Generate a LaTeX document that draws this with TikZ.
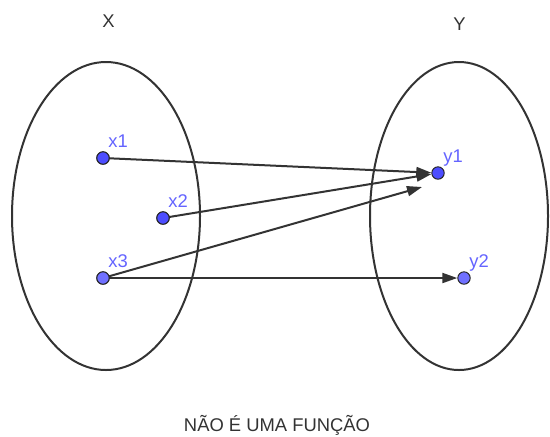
\documentclass[tikz,border=0pt]{standalone}
\usepackage{fontspec}
\setmainfont{Liberation Sans}
\usetikzlibrary{shapes.geometric, arrows.meta, positioning}
\definecolor{ponto}{RGB}{77,77,255}
\definecolor{pontoclaro}{RGB}{112,112,255}
\definecolor{rotulo}{RGB}{100,100,255}
\definecolor{traco}{RGB}{51,51,51}

\begin{document}
\begin{tikzpicture}[x=0.5pt, y=-0.5pt,
      conj/.style={draw=traco, ellipse, line width=1pt, inner sep=0pt},
      pt/.style={draw=black!85, circle, fill=ponto, line width=0.5pt,
                 minimum size=6.2pt, inner sep=0pt},
      ptclaro/.style={pt, fill=pontoclaro},
      rot/.style={anchor=base west, inner sep=0pt, text=rotulo,
                  font=\fontsize{9.2}{11}\selectfont},
      titulo/.style={anchor=base, inner sep=0pt, text=traco,
                     font=\fontsize{9.2}{11}\selectfont},
      seta/.style={-{Triangle[length=7.5pt, width=5pt]}, draw=traco,
                   line width=1pt}
    ]
    \useasboundingbox (0,0) rectangle (550,436);

    % Conjuntos
    \node[conj, minimum width=94pt, minimum height=154pt] (setX) at (106,216) {};
    \node[conj, minimum width=89pt, minimum height=154pt] (setY) at (459,216) {};
    \node[titulo] (tX) at (108.5,27) {X};
    \node[titulo] (tY) at (459.5,30) {Y};

    % Pontos
    \node[pt] (x1) at (103,158) {};
    \node[pt] (x2) at (163,218) {};
    \node[ptclaro] (x3) at (103,278) {};
    \node[pt] (y1) at (438,173) {};
    \node[ptclaro] (y2) at (464,278) {};

    % Rotulos
    \node[rot] (lx1) at (108,147) {x1};
    \node[rot] (lx2) at (168,207) {x2};
    \node[rot] (lx3) at (108,267) {x3};
    \node[rot] (ly1) at (443,162) {y1};
    \node[rot] (ly2) at (469,267) {y2};

    % Setas
    \coordinate (fim3) at (422,187);
    \draw[seta] (x1.center) -- (y1);
    \draw[seta] (x2.center) -- (y1);
    \draw[seta] (x3.center) -- (fim3);
    \draw[seta] (x3.center) -- (y2);

    % pontos por cima das setas
    \foreach \p/\s in {x1/pt, x2/pt, x3/ptclaro}
      \node[\s] at (\p) {};

    \node[titulo] (legenda) at (277,431) {NÃO É UMA FUNÇÃO};
  \end{tikzpicture}
\end{document}
